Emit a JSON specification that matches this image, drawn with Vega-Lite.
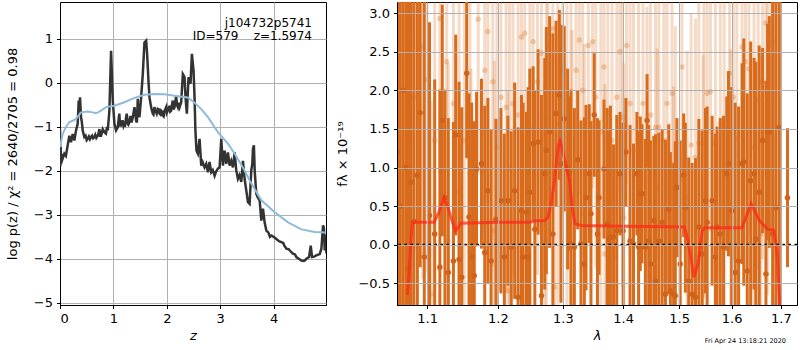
{
"$schema": "https://vega.github.io/schema/vega-lite/v6.json",
"padding": {"left": 5, "top": 1, "right": 0, "bottom": 0},
"bounds": "flush",
"spacing": 71,
"config": {
  "font": "DejaVu Sans",
  "view": {"stroke": "black", "strokeWidth": 1},
  "axis": {"domainColor": "black", "tickColor": "black", "labelColor": "black", "titleColor": "black", "labelFontSize": 13, "titleFontSize": 13, "titleFontWeight": "normal", "gridColor": "#b0b0b0", "gridWidth": 1, "tickSize": 3.5, "labelPadding": 4, "labelFont": "DejaVu Sans", "titleFont": "DejaVu Sans"}
},
"datasets": {
  "pz": [
    {"z":0,"v":-1.05},{"z":0.006,"v":-1.9},{"z":0.012,"v":-1.45},{"z":0.02,"v":-1.85},{"z":0.03,"v":-1.62},{"z":0.05,"v":-1.72},{"z":0.081,"v":-1.61},{"z":0.11,"v":-1.66},{"z":0.144,"v":-1.42},{"z":0.175,"v":-1.2},{"z":0.206,"v":-1.35},{"z":0.238,"v":-1.16},{"z":0.269,"v":-1.31},{"z":0.3,"v":-1.08},{"z":0.331,"v":-0.93},{"z":0.35,"v":-0.4},{"z":0.362,"v":-0.6},{"z":0.375,"v":-0.33},{"z":0.394,"v":-0.78},{"z":0.41,"v":-0.9},{"z":0.425,"v":-1.08},{"z":0.456,"v":-1.23},{"z":0.48,"v":-1.2},{"z":0.5,"v":-1.3},{"z":0.519,"v":-1.27},{"z":0.54,"v":-1.22},{"z":0.56,"v":-1.28},{"z":0.581,"v":-1.23},{"z":0.6,"v":-1.2},{"z":0.62,"v":-1.26},{"z":0.644,"v":-1.23},{"z":0.66,"v":-1.18},{"z":0.68,"v":-1.25},{"z":0.706,"v":-1.2},{"z":0.72,"v":-1.15},{"z":0.738,"v":-1.05},{"z":0.75,"v":-1.2},{"z":0.769,"v":-1.2},{"z":0.8,"v":-1.05},{"z":0.831,"v":-1.12},{"z":0.86,"v":-1.15},{"z":0.88,"v":-1.0},{"z":0.894,"v":-1.08},{"z":0.925,"v":-0.63},{"z":0.956,"v":0.73},{"z":0.988,"v":-0.4},{"z":1.019,"v":-0.93},{"z":1.05,"v":-1.08},{"z":1.081,"v":-1.01},{"z":1.11,"v":-0.7},{"z":1.125,"v":-0.97},{"z":1.144,"v":-0.97},{"z":1.17,"v":-0.85},{"z":1.19,"v":-0.98},{"z":1.206,"v":-0.93},{"z":1.22,"v":-0.95},{"z":1.238,"v":-0.78},{"z":1.25,"v":-0.7},{"z":1.269,"v":-0.93},{"z":1.28,"v":-0.95},{"z":1.3,"v":-0.89},{"z":1.32,"v":-0.75},{"z":1.331,"v":-0.82},{"z":1.34,"v":-0.9},{"z":1.363,"v":-0.78},{"z":1.394,"v":-0.55},{"z":1.41,"v":-0.7},{"z":1.425,"v":-0.86},{"z":1.44,"v":-0.9},{"z":1.456,"v":-0.36},{"z":1.47,"v":-0.7},{"z":1.488,"v":-0.78},{"z":1.519,"v":-0.33},{"z":1.55,"v":0.2},{"z":1.581,"v":0.92},{"z":1.613,"v":0.96},{"z":1.631,"v":0.66},{"z":1.656,"v":0.05},{"z":1.675,"v":-0.33},{"z":1.706,"v":-0.55},{"z":1.72,"v":-0.62},{"z":1.738,"v":-0.7},{"z":1.75,"v":-0.72},{"z":1.769,"v":-0.55},{"z":1.78,"v":-0.6},{"z":1.8,"v":-0.67},{"z":1.81,"v":-0.7},{"z":1.831,"v":-0.59},{"z":1.85,"v":-0.6},{"z":1.863,"v":-0.7},{"z":1.88,"v":-0.72},{"z":1.894,"v":-0.63},{"z":1.91,"v":-0.65},{"z":1.925,"v":-0.74},{"z":1.94,"v":-0.76},{"z":1.956,"v":-0.63},{"z":1.97,"v":-0.6},{"z":1.988,"v":-0.55},{"z":2.0,"v":-0.68},{"z":2.019,"v":-0.63},{"z":2.035,"v":-0.58},{"z":2.05,"v":-0.52},{"z":2.065,"v":-0.65},{"z":2.081,"v":-0.63},{"z":2.095,"v":-0.5},{"z":2.113,"v":-0.4},{"z":2.13,"v":-0.6},{"z":2.144,"v":-0.55},{"z":2.16,"v":-0.42},{"z":2.175,"v":-0.29},{"z":2.19,"v":-0.5},{"z":2.206,"v":-0.55},{"z":2.22,"v":-0.45},{"z":2.24,"v":-0.55},{"z":2.269,"v":-0.44},{"z":2.3,"v":0.2},{"z":2.331,"v":0.13},{"z":2.35,"v":-0.33},{"z":2.375,"v":-0.7},{"z":2.406,"v":0.13},{"z":2.444,"v":-0.02},{"z":2.469,"v":0.66},{"z":2.5,"v":0.28},{"z":2.519,"v":-0.33},{"z":2.535,"v":-1.08},{"z":2.555,"v":-1.54},{"z":2.581,"v":-1.61},{"z":2.613,"v":-1.27},{"z":2.644,"v":-1.88},{"z":2.67,"v":-1.8},{"z":2.706,"v":-1.92},{"z":2.738,"v":-1.84},{"z":2.769,"v":-2.03},{"z":2.8,"v":-1.8},{"z":2.831,"v":-2.03},{"z":2.86,"v":-1.98},{"z":2.894,"v":-2.11},{"z":2.92,"v":-2.02},{"z":2.956,"v":-1.95},{"z":2.988,"v":-1.92},{"z":3.019,"v":-1.27},{"z":3.05,"v":-1.88},{"z":3.081,"v":-1.54},{"z":3.113,"v":-1.84},{"z":3.144,"v":-1.58},{"z":3.175,"v":-1.88},{"z":3.206,"v":-1.77},{"z":3.238,"v":-1.92},{"z":3.269,"v":-1.58},{"z":3.3,"v":-1.99},{"z":3.331,"v":-2.18},{"z":3.36,"v":-2.1},{"z":3.394,"v":-2.25},{"z":3.425,"v":-1.77},{"z":3.456,"v":-2.18},{"z":3.488,"v":-2.45},{"z":3.519,"v":-2.71},{"z":3.55,"v":-2.75},{"z":3.581,"v":-1.99},{"z":3.6,"v":-1.84},{"z":3.613,"v":-1.5},{"z":3.63,"v":-1.42},{"z":3.645,"v":-2.0},{"z":3.675,"v":-2.52},{"z":3.7,"v":-2.6},{"z":3.738,"v":-2.67},{"z":3.769,"v":-3.13},{"z":3.8,"v":-2.86},{"z":3.831,"v":-3.17},{"z":3.863,"v":-3.36},{"z":3.9,"v":-3.4},{"z":3.93,"v":-3.5},{"z":3.956,"v":-3.47},{"z":4.0,"v":-3.5},{"z":4.05,"v":-3.55},{"z":4.1,"v":-3.6},{"z":4.144,"v":-3.62},{"z":4.18,"v":-3.64},{"z":4.2,"v":-3.7},{"z":4.238,"v":-3.77},{"z":4.28,"v":-3.78},{"z":4.331,"v":-3.85},{"z":4.36,"v":-3.88},{"z":4.4,"v":-3.9},{"z":4.425,"v":-3.96},{"z":4.47,"v":-4.0},{"z":4.519,"v":-4.04},{"z":4.56,"v":-4.05},{"z":4.59,"v":-4.03},{"z":4.613,"v":-4.0},{"z":4.663,"v":-3.96},{"z":4.694,"v":-3.7},{"z":4.719,"v":-3.96},{"z":4.76,"v":-3.95},{"z":4.8,"v":-3.92},{"z":4.863,"v":-3.89},{"z":4.894,"v":-3.77},{"z":4.925,"v":-3.24},{"z":4.94,"v":-3.3},{"z":4.956,"v":-3.81},{"z":4.975,"v":-3.45},{"z":4.99,"v":-3.88}
  ],
  "chi": [
    {"z":0,"v":-1.46},{"z":0.05,"v":-1.16},{"z":0.1125,"v":-1.0},{"z":0.175,"v":-0.89},{"z":0.2375,"v":-0.86},{"z":0.3,"v":-0.82},{"z":0.394,"v":-0.67},{"z":0.519,"v":-0.65},{"z":0.6125,"v":-0.67},{"z":0.675,"v":-0.69},{"z":0.769,"v":-0.63},{"z":0.8625,"v":-0.55},{"z":1.019,"v":-0.52},{"z":1.206,"v":-0.44},{"z":1.394,"v":-0.34},{"z":1.581,"v":-0.27},{"z":1.769,"v":-0.25},{"z":1.956,"v":-0.26},{"z":2.144,"v":-0.29},{"z":2.39,"v":-0.33},{"z":2.52,"v":-0.45},{"z":2.64,"v":-0.59},{"z":2.77,"v":-0.78},{"z":2.956,"v":-1.12},{"z":3.144,"v":-1.38},{"z":3.27,"v":-1.61},{"z":3.456,"v":-1.99},{"z":3.55,"v":-2.22},{"z":3.77,"v":-2.67},{"z":4.02,"v":-2.94},{"z":4.27,"v":-3.17},{"z":4.52,"v":-3.33},{"z":4.77,"v":-3.39},{"z":4.98,"v":-3.4}
  ],
  "dark": [
    {"l":1.061,"f":1.2,"e":4},{"l":1.0643,"f":0.5,"e":4},{"l":1.0681,"f":2.0,"e":3},{"l":1.0718,"f":1.0,"e":3.5},{"l":1.0751,"f":-0.3,"e":4},{"l":1.0784,"f":0.81,"e":3.0},{"l":1.0822,"f":0.3,"e":3.5},{"l":1.0869,"f":0.9,"e":3.0},{"l":1.0906,"f":1.71,"e":2.0},{"l":1.0962,"f":-0.16,"e":3.5},{"l":1.1033,"f":0.38,"e":2.5},{"l":1.1103,"f":0.14,"e":2.0},{"l":1.1174,"f":-0.29,"e":2.3},{"l":1.1207,"f":1.61,"e":1.5},{"l":1.1244,"f":0.61,"e":1.4},{"l":1.1291,"f":-0.36,"e":2.0},{"l":1.1362,"f":-0.21,"e":1.8},{"l":1.1394,"f":1.42,"e":1.3},{"l":1.1441,"f":-0.19,"e":2.3},{"l":1.1479,"f":-0.42,"e":2.2},{"l":1.1549,"f":2.22,"e":1.1},{"l":1.1582,"f":0.36,"e":1.6},{"l":1.162,"f":-0.16,"e":2.0},{"l":1.1657,"f":-0.4,"e":2.0},{"l":1.169,"f":0.98,"e":1.0},{"l":1.1761,"f":1.05,"e":1.1},{"l":1.1808,"f":-0.1,"e":1.9},{"l":1.1854,"f":0.7,"e":1.2},{"l":1.1901,"f":-0.21,"e":1.7},{"l":1.1972,"f":0.33,"e":1.3},{"l":1.2046,"f":0.57,"e":1.2},{"l":1.2097,"f":-0.16,"e":1.6},{"l":1.2149,"f":0.57,"e":1.1},{"l":1.22,"f":-0.03,"e":1.5},{"l":1.2251,"f":0.7,"e":1.4},{"l":1.2303,"f":-0.68,"e":2.2},{"l":1.2354,"f":0.44,"e":1.5},{"l":1.2379,"f":-0.16,"e":2.0},{"l":1.2431,"f":0.42,"e":1.3},{"l":1.2456,"f":-0.16,"e":2.2},{"l":1.2482,"f":0.68,"e":1.6},{"l":1.2533,"f":1.31,"e":1.0},{"l":1.2559,"f":0.2,"e":1.8},{"l":1.261,"f":1.33,"e":1.2},{"l":1.2662,"f":-0.66,"e":2.6},{"l":1.2713,"f":0.92,"e":1.5},{"l":1.2738,"f":1.22,"e":1.6},{"l":1.279,"f":1.46,"e":1.5},{"l":1.2841,"f":0.14,"e":2.6},{"l":1.2892,"f":1.7,"e":1.2},{"l":1.2944,"f":1.94,"e":1.1},{"l":1.2969,"f":1.05,"e":1.8},{"l":1.3022,"f":1.63,"e":1.2},{"l":1.3076,"f":0.98,"e":1.3},{"l":1.3103,"f":0.92,"e":1.0},{"l":1.313,"f":0.01,"e":2.0},{"l":1.3185,"f":-0.03,"e":1.8},{"l":1.3239,"f":1.1,"e":0.9},{"l":1.3293,"f":0.01,"e":1.6},{"l":1.3348,"f":-0.25,"e":1.9},{"l":1.3375,"f":0.61,"e":1.2},{"l":1.3429,"f":0.92,"e":0.9},{"l":1.3457,"f":0.4,"e":1.2},{"l":1.3511,"f":1.68,"e":0.8},{"l":1.3565,"f":0.14,"e":1.5},{"l":1.3592,"f":0.61,"e":1.0},{"l":1.3674,"f":0.98,"e":0.9},{"l":1.3728,"f":0.27,"e":1.5},{"l":1.3755,"f":0.07,"e":1.4},{"l":1.3783,"f":0.1,"e":1.7},{"l":1.3837,"f":0.1,"e":1.2},{"l":1.3891,"f":0.18,"e":1.5},{"l":1.3946,"f":0.92,"e":0.8},{"l":1.4,"f":0.18,"e":1.4},{"l":1.4048,"f":1.2,"e":0.7},{"l":1.412,"f":0.05,"e":1.5},{"l":1.418,"f":0.01,"e":1.3},{"l":1.424,"f":0.92,"e":0.8},{"l":1.4269,"f":-0.03,"e":1.5},{"l":1.4299,"f":0.66,"e":1.0},{"l":1.4329,"f":0.66,"e":0.9},{"l":1.4389,"f":-0.03,"e":1.4},{"l":1.4419,"f":1.61,"e":0.6},{"l":1.4449,"f":0.05,"e":1.5},{"l":1.4479,"f":-0.25,"e":1.6},{"l":1.4539,"f":0.31,"e":1.1},{"l":1.4569,"f":-0.47,"e":1.9},{"l":1.4629,"f":0.05,"e":1.4},{"l":1.4689,"f":0.29,"e":1.2},{"l":1.4749,"f":-0.64,"e":2.0},{"l":1.4808,"f":0.46,"e":1.1},{"l":1.4838,"f":-0.6,"e":1.8},{"l":1.4898,"f":-0.64,"e":1.7},{"l":1.4928,"f":-0.66,"e":2.0},{"l":1.4958,"f":0.74,"e":0.9},{"l":1.5019,"f":-0.25,"e":1.6},{"l":1.5082,"f":0.9,"e":0.8},{"l":1.5114,"f":0.48,"e":1.1},{"l":1.5177,"f":-0.47,"e":1.6},{"l":1.5241,"f":-0.64,"e":1.7},{"l":1.5304,"f":-0.68,"e":1.8},{"l":1.5367,"f":0.23,"e":1.4},{"l":1.543,"f":-0.12,"e":1.6},{"l":1.5494,"f":0.57,"e":1.2},{"l":1.5525,"f":0.29,"e":1.5},{"l":1.562,"f":0.57,"e":1.1},{"l":1.5684,"f":-0.16,"e":1.6},{"l":1.5715,"f":0.23,"e":1.3},{"l":1.5778,"f":0.14,"e":1.5},{"l":1.5842,"f":-0.03,"e":1.7},{"l":1.5905,"f":0.92,"e":1.0},{"l":1.5937,"f":1.05,"e":1.2},{"l":1.6,"f":0.44,"e":1.6},{"l":1.6069,"f":-0.36,"e":2.2},{"l":1.6138,"f":-0.21,"e":2.0},{"l":1.6207,"f":1.05,"e":1.3},{"l":1.6241,"f":1.07,"e":1.6},{"l":1.631,"f":-0.34,"e":2.3},{"l":1.6379,"f":0.83,"e":1.8},{"l":1.6448,"f":0.92,"e":1.5},{"l":1.6483,"f":0.07,"e":2.3},{"l":1.6552,"f":0.68,"e":1.9},{"l":1.6621,"f":1.35,"e":1.2},{"l":1.669,"f":-0.38,"e":2.5},{"l":1.6724,"f":1.46,"e":1.4},{"l":1.6759,"f":1.46,"e":1.5},{"l":1.6828,"f":0.14,"e":4.0},{"l":1.6897,"f":0.48,"e":4.0},{"l":1.6966,"f":1.52,"e":3.5},{"l":1.7138,"f":0.61,"e":0.9}
  ],
  "light": [
    {"l":1.0831,"f":1.91,"e":2.0},{"l":1.0939,"f":2.56,"e":3.0},{"l":1.1,"f":2.14,"e":2.5},{"l":1.1103,"f":1.35,"e":2.6},{"l":1.1174,"f":2.93,"e":2.0},{"l":1.1268,"f":2.37,"e":2.4},{"l":1.1362,"f":1.83,"e":2.2},{"l":1.1441,"f":0.68,"e":2.6},{"l":1.1516,"f":1.35,"e":2.5},{"l":1.1596,"f":0.92,"e":2.4},{"l":1.1714,"f":2.92,"e":2.0},{"l":1.1808,"f":2.26,"e":2.3},{"l":1.1854,"f":2.76,"e":2.2},{"l":1.1925,"f":2.11,"e":2.4},{"l":1.1986,"f":1.26,"e":2.6},{"l":1.2046,"f":1.91,"e":2.5},{"l":1.2123,"f":1.78,"e":2.4},{"l":1.2174,"f":0.98,"e":2.3},{"l":1.2226,"f":1.83,"e":2.2},{"l":1.2303,"f":1.68,"e":2.4},{"l":1.2354,"f":2.69,"e":2.0},{"l":1.2405,"f":2.74,"e":2.2},{"l":1.2482,"f":1.5,"e":2.3},{"l":1.2533,"f":2.63,"e":2.2},{"l":1.26,"f":2.11,"e":2.5},{"l":1.2662,"f":2.48,"e":2.3},{"l":1.2738,"f":1.63,"e":2.5},{"l":1.2764,"f":2.58,"e":2.0},{"l":1.2841,"f":2.8,"e":2.2},{"l":1.2918,"f":1.57,"e":2.4},{"l":1.2995,"f":2.26,"e":2.3},{"l":1.3065,"f":1.2,"e":2.4},{"l":1.313,"f":0.96,"e":2.5},{"l":1.3212,"f":2.26,"e":2.0},{"l":1.3266,"f":2.65,"e":2.0},{"l":1.3321,"f":2.0,"e":2.3},{"l":1.3413,"f":2.58,"e":2.0},{"l":1.3484,"f":2.63,"e":1.9},{"l":1.3538,"f":1.91,"e":2.2},{"l":1.362,"f":1.46,"e":2.3},{"l":1.3674,"f":2.3,"e":2.0},{"l":1.3739,"f":1.7,"e":2.2},{"l":1.381,"f":1.35,"e":2.4},{"l":1.3891,"f":1.91,"e":2.1},{"l":1.3946,"f":2.5,"e":1.8},{"l":1.3989,"f":1.65,"e":2.2},{"l":1.406,"f":2.58,"e":1.8},{"l":1.412,"f":1.83,"e":2.0},{"l":1.418,"f":1.22,"e":2.2},{"l":1.4269,"f":1.63,"e":2.0},{"l":1.4347,"f":1.83,"e":1.9},{"l":1.4419,"f":0.98,"e":2.1},{"l":1.4479,"f":1.68,"e":1.8},{"l":1.4569,"f":1.52,"e":1.8},{"l":1.4629,"f":1.52,"e":1.7},{"l":1.4719,"f":1.35,"e":1.9},{"l":1.4778,"f":1.83,"e":1.6},{"l":1.4868,"f":1.96,"e":1.8},{"l":1.4928,"f":0.83,"e":2.0},{"l":1.5051,"f":2.3,"e":1.5},{"l":1.5146,"f":0.61,"e":1.9},{"l":1.5222,"f":1.29,"e":1.7},{"l":1.5304,"f":1.13,"e":1.8},{"l":1.5367,"f":1.31,"e":1.9},{"l":1.5462,"f":1.31,"e":2.0},{"l":1.5525,"f":1.96,"e":1.9},{"l":1.5589,"f":1.98,"e":1.8},{"l":1.5684,"f":1.31,"e":2.1},{"l":1.5778,"f":1.57,"e":2.0},{"l":1.5854,"f":0.96,"e":2.2},{"l":1.5956,"f":2.22,"e":1.9},{"l":1.6034,"f":1.91,"e":2.1},{"l":1.6103,"f":1.37,"e":2.3},{"l":1.6207,"f":2.56,"e":2.0},{"l":1.6276,"f":2.37,"e":2.1},{"l":1.6345,"f":2.28,"e":2.2},{"l":1.6448,"f":1.26,"e":2.4},{"l":1.6531,"f":1.87,"e":2.2},{"l":1.6621,"f":2.11,"e":2.3},{"l":1.669,"f":2.87,"e":2.0},{"l":1.6724,"f":1.85,"e":2.5},{"l":1.6793,"f":2.61,"e":2.5},{"l":1.6862,"f":2.63,"e":2.6},
    {"l":1.1056,"f":-0.64,"e":2.5},{"l":1.1291,"f":0.05,"e":2.3},{"l":1.161,"f":-0.12,"e":2.4},{"l":1.1948,"f":0.18,"e":2.2},{"l":1.2149,"f":-0.6,"e":2.6},{"l":1.2713,"f":-0.29,"e":2.4},{"l":1.2867,"f":-0.55,"e":2.5},{"l":1.3147,"f":0.48,"e":2.3},{"l":1.3348,"f":0.4,"e":2.2},{"l":1.369,"f":-0.12,"e":2.2},{"l":1.4012,"f":0.35,"e":2.0},{"l":1.4599,"f":0.74,"e":1.8},{"l":1.4898,"f":0.05,"e":2.0},{"l":1.5449,"f":0.66,"e":1.8},{"l":1.5981,"f":0.53,"e":2.0},{"l":1.6586,"f":0.14,"e":2.3},{"l":1.6876,"f":-0.12,"e":2.6}
  ],
  "model": [
    {"l":1.0735,"f":-0.65},{"l":1.0759,"f":-0.38},{"l":1.0785,"f":0.1},{"l":1.0804,"f":0.29},{"l":1.09,"f":0.29},{"l":1.1095,"f":0.29},{"l":1.116,"f":0.42},{"l":1.1232,"f":0.61},{"l":1.129,"f":0.47},{"l":1.1349,"f":0.29},{"l":1.139,"f":0.18},{"l":1.1425,"f":0.22},{"l":1.1466,"f":0.28},{"l":1.2,"f":0.29},{"l":1.2469,"f":0.29},{"l":1.2575,"f":0.31},{"l":1.2703,"f":0.31},{"l":1.2762,"f":0.35},{"l":1.2815,"f":0.55},{"l":1.2867,"f":0.83},{"l":1.2918,"f":1.22},{"l":1.2953,"f":1.37},{"l":1.2995,"f":1.22},{"l":1.3106,"f":0.84},{"l":1.315,"f":0.48},{"l":1.3199,"f":0.27},{"l":1.33,"f":0.25},{"l":1.4,"f":0.24},{"l":1.5098,"f":0.23},{"l":1.5162,"f":0.05},{"l":1.523,"f":-0.22},{"l":1.5275,"f":-0.42},{"l":1.536,"f":-0.22},{"l":1.543,"f":0.18},{"l":1.548,"f":0.22},{"l":1.6204,"f":0.22},{"l":1.6391,"f":0.53},{"l":1.6559,"f":0.31},{"l":1.673,"f":0.2},{"l":1.6854,"f":0.19},{"l":1.6923,"f":-0.12},{"l":1.697,"f":-0.7},{"l":1.6985,"f":-1.0}
  ],
  "zero": [{"f": 0}]
},
"hconcat": [
  {
    "width": 266, "height": 303,
    "title": {"text": "j104732p5741", "subtitle": "ID=579\u00a0\u00a0\u00a0\u00a0z=1.5974", "anchor": "end", "orient": "top", "frame": "group", "offset": -41, "dx": -14, "fontSize": 12, "subtitleFontSize": 12, "fontWeight": "normal", "color": "black", "subtitleColor": "black", "subtitlePadding": 1, "font": "DejaVu Sans", "subtitleFont": "DejaVu Sans"},
    "layer": [
      {"data": {"name": "pz"}, "mark": {"type": "line", "color": "#333333", "strokeWidth": 2.5, "clip": true},
       "encoding": {
         "x": {"field": "z", "type": "quantitative", "scale": {"domain": [0, 4.98], "nice": false, "zero": false}, "axis": {"values": [0,1,2,3,4], "format": "d", "title": "z", "titleFontStyle": "italic", "titlePadding": 4}},
         "y": {"field": "v", "type": "quantitative", "scale": {"domain": [-5.05, 1.84], "nice": false, "zero": false}, "axis": {"values": [-5,-4,-3,-2,-1,0,1], "format": "d", "title": "log p(z) / χ² = 2640/2705 = 0.98", "titlePadding": 14}}
       }},
      {"data": {"name": "chi"}, "mark": {"type": "line", "color": "#8fbbd9", "strokeWidth": 2, "clip": true},
       "encoding": {
         "x": {"field": "z", "type": "quantitative", "title": "z"},
         "y": {"field": "v", "type": "quantitative", "title": "log p(z) / χ² = 2640/2705 = 0.98"}
       }}
    ]
  },
  {
    "width": 400, "height": 303,
    "title": {"text": "Fri Apr 24 13:18:21 2020", "orient": "bottom", "anchor": "end", "frame": "group", "fontSize": 6.5, "fontWeight": "normal", "color": "black", "dx": -11, "offset": -5},
    "layer": [
      {"data": {"name": "light"}, "mark": {"type": "errorbar", "ticks": false, "thickness": 3, "color": "#d86c1c", "opacity": 0.25, "clip": true},
       "encoding": {
         "x": {"field": "l", "type": "quantitative", "scale": {"type": "log", "domain": [1.06, 1.734], "nice": false}, "axis": {"values": [1.1,1.2,1.3,1.4,1.5,1.6,1.7], "format": ".1f", "title": "λ", "titleFontStyle": "italic", "titlePadding": 4, "zindex": 1}},
         "y": {"field": "f", "type": "quantitative", "scale": {"domain": [-0.78, 3.143], "nice": false, "zero": false, "clamp": true}, "axis": {"values": [-0.5,0,0.5,1,1.5,2,2.5,3], "format": ".1f", "title": "fλ × 10⁻¹⁹", "titlePadding": 8, "zindex": 1}},
         "yError": {"field": "e"}
       }},
      {"data": {"name": "light"}, "mark": {"type": "point", "filled": true, "size": 30, "color": "#d86c1c", "opacity": 0.3, "clip": true},
       "encoding": {"x": {"field": "l", "type": "quantitative", "title": "λ"}, "y": {"field": "f", "type": "quantitative", "title": "fλ × 10⁻¹⁹"}}},
      {"data": {"name": "dark"}, "mark": {"type": "errorbar", "ticks": false, "thickness": 3, "color": "#d86c1c", "opacity": 1, "clip": true},
       "encoding": {"x": {"field": "l", "type": "quantitative", "title": "λ"}, "y": {"field": "f", "type": "quantitative", "title": "fλ × 10⁻¹⁹"}, "yError": {"field": "e"}}},
      {"data": {"name": "dark"}, "mark": {"type": "point", "filled": true, "size": 30, "color": "#d0621a", "opacity": 1, "clip": true},
       "encoding": {"x": {"field": "l", "type": "quantitative", "title": "λ"}, "y": {"field": "f", "type": "quantitative", "title": "fλ × 10⁻¹⁹"}}},
      {"data": {"name": "model"}, "mark": {"type": "line", "color": "#ff2a1a", "opacity": 0.75, "strokeWidth": 3, "clip": true},
       "encoding": {"x": {"field": "l", "type": "quantitative", "title": "λ"}, "y": {"field": "f", "type": "quantitative", "title": "fλ × 10⁻¹⁹"}}},
      {"data": {"name": "zero"}, "mark": {"type": "rule", "color": "black", "strokeDash": [2.5, 3.5], "strokeWidth": 2},
       "encoding": {"y": {"field": "f", "type": "quantitative", "title": "fλ × 10⁻¹⁹"}}}
    ]
  }
]
}
